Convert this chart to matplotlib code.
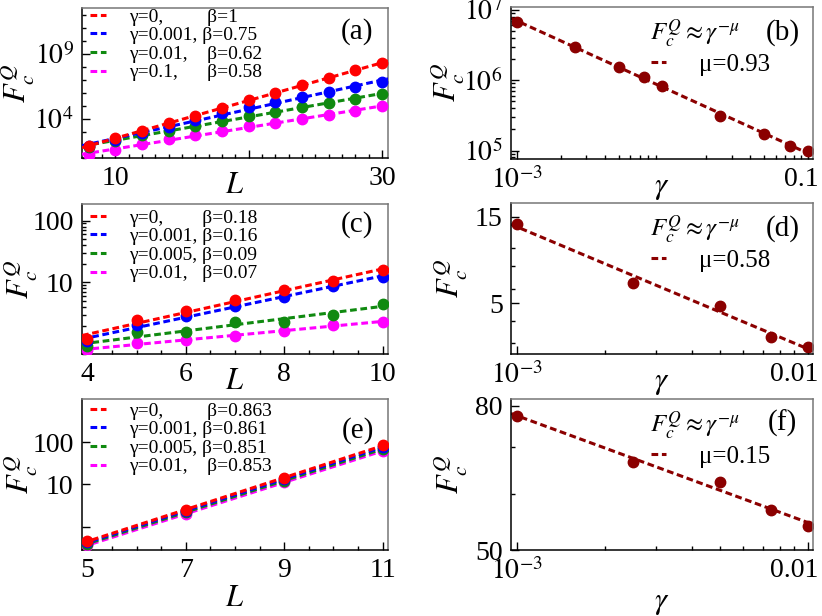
import numpy as np
import matplotlib
matplotlib.use('Agg')
import matplotlib.pyplot as plt
import matplotlib.transforms as mtransforms
from matplotlib.ticker import NullFormatter, FixedLocator, MultipleLocator

plt.rcParams['font.family'] = ['Liberation Serif', 'DejaVu Serif']
plt.rcParams['mathtext.fontset'] = 'stix'

##########################  DATA  #############################################

L_a = [8, 10, 12, 14, 16, 18, 20, 22, 24, 26, 28, 30]
Fa_g0 = [85, 372, 1230, 4900, 1.58e4, 6.3e4, 2.63e5, 9.33e5, 3.9e6, 1.41e7, 5.6e7, 2.0e8]
Fa_g001 = [89, 245, 813, 2240, 8900, 2.88e4, 8.5e4, 1.95e5, 4.79e5, 1.17e6, 2.57e6, 6.3e6]
Fa_g01 = [74, 219, 603, 1230, 2690, 7400, 1.58e4, 3.47e4, 8.5e4, 1.55e5, 3.55e5, 7.76e5]
Fa_g1 = [17, 41, 115, 282, 603, 1230, 2690, 4900, 1.0e4, 1.82e4, 3.89e4, 9.55e4]
labels_a = ['γ=0,         β=1', 'γ=0.001, β=0.75', 'γ=0.01,    β=0.62', 'γ=0.1,      β=0.58']

L_c = [4, 5, 6, 7, 8, 9, 10]
Fc_g0 = [1.23, 2.48, 3.48, 5.14, 7.59, 10.6, 15.8]
Fc_g001 = [1.13, 2.07, 2.87, 4.13, 5.79, 8.87, 12.3]
Fc_g005 = [0.94, 1.56, 1.60, 2.29, 2.29, 2.98, 4.56]
Fc_g01 = [0.81, 1.06, 1.20, 1.35, 1.62, 2.07, 2.33]
labels_c = ['γ=0,        β=0.18', 'γ=0.001, β=0.16', 'γ=0.005, β=0.09', 'γ=0.01,   β=0.07']

L_e = [5, 7, 9, 11]
Fe_g0 = [0.457, 2.48, 14.4, 83]
Fe_g001 = [0.427, 2.34, 13.5, 75.9]
Fe_g005 = [0.398, 2.19, 12.3, 69]
Fe_g01 = [0.363, 2.0, 11.2, 61.7]
labels_e = ['γ=0,         β=0.863', 'γ=0.001, β=0.861', 'γ=0.005, β=0.851', 'γ=0.01,    β=0.853']

gamma_b = [0.001, 0.0025, 0.005, 0.0075, 0.01, 0.025, 0.05, 0.075, 0.1]
Fb = [6.76e6, 2.95e6, 1.55e6, 1.12e6, 8.3e5, 3.1e5, 1.7e5, 1.17e5, 9.8e4]
mu_b = 'μ=0.93'

gamma_d = [0.001, 0.0025, 0.005, 0.0075, 0.01]
Fd = [13.7, 6.44, 4.83, 3.25, 2.86]
mu_d = 'μ=0.58'

gamma_f = [0.001, 0.0025, 0.005, 0.0075, 0.01]
Ff = [77.4, 66.7, 62.4, 56.9, 54.1]
mu_f = 'μ=0.15'

colors = ['#ff0000', '#0000ff', '#108a10', '#ff00ff']
darkRed = '#8b0000'
DASH = (0, (2.2, 1.2))

##############################  HELPERS  ######################################

def styleAxes(ax):
    for side in ['top', 'right']:
        ax.spines[side].set_color('#777777')
    for side in ax.spines:
        ax.spines[side].set_linewidth(1.1)
    ax.tick_params(which='both', direction='in', top=False, right=False, labelsize=20, pad=6)
    ax.tick_params(which='major', length=6, width=1)
    ax.tick_params(which='minor', length=3, width=1)

def expFit(x, y, xlim):
    p = np.polyfit(x, np.log10(y), 1)
    xs = np.array(xlim)
    return xs, 10 ** (p[0] * xs + p[1])

def powFit(x, y, xlim):
    p = np.polyfit(np.log10(x), np.log10(y), 1)
    xs = np.array(xlim)
    return xs, 10 ** (p[0] * np.log10(xs) + p[1])

def setLabels(ax, xlabel, xly, ylx):
    ax.set_xlabel(xlabel, fontsize=22)
    ax.xaxis.label.set_va('center')
    ax.xaxis.set_label_coords(0.5, xly)
    ax.set_ylabel(r'$F_c^Q$', fontsize=22)
    ax.yaxis.label.set_va('center')
    ax.yaxis.set_label_coords(ylx, 0.5)

def plotLeft(ax, L, series, labels, xlim, ylim, legY):
    for k in range(len(series)):
        xs, ys = expFit(L, series[k], xlim)
        ax.plot(xs, ys, linestyle=DASH, color=colors[k], lw=2.2, label=labels[k], zorder=10 - k)
        ax.plot(L, series[k], 'o', color=colors[k], ms=7.5, zorder=10 - k)
    ax.set_yscale('log')
    ax.set_xlim(xlim)
    ax.set_ylim(ylim)
    ax.legend(loc='upper left', bbox_to_anchor=(0.026, legY), frameon=False, fontsize=14,
              handlelength=0.8, handletextpad=1.2, labelspacing=0.05, borderpad=0, borderaxespad=0)
    styleAxes(ax)

def plotRight(ax, g, F, mu, xlim, ylim, xticks, xticklabels):
    xs, ys = powFit(g, F, xlim)
    ax.plot(xs, ys, linestyle=DASH, color=darkRed, lw=2.2, label=mu)
    ax.plot(g, F, 'o', color=darkRed, ms=7.5)
    ax.set_xscale('log')
    ax.set_yscale('log')
    ax.set_xlim(xlim)
    ax.set_ylim(ylim)
    ax.set_xticks(xticks)
    ax.set_xticklabels(xticklabels)
    ax.xaxis.set_minor_formatter(NullFormatter())
    ax.yaxis.set_minor_formatter(NullFormatter())
    ax.text(0.61, 0.82, r'$F_c^Q \approx \gamma^{-\mu}$', transform=ax.transAxes,
            ha='center', va='center', fontsize=18)
    ax.legend(loc='center left', bbox_to_anchor=(0.464, 0.62), frameon=False, fontsize=18,
              handlelength=0.6, handletextpad=1.3, borderpad=0, borderaxespad=0)
    styleAxes(ax)
    # last x label pulled inside the figure, as in the original
    lab = ax.xaxis.get_major_ticks()[-1].label1
    lab.set_horizontalalignment('right')
    lab.set_transform(lab.get_transform() + mtransforms.ScaledTranslation(0.11, 0, fig.dpi_scale_trans))

def panelLabel(ax, text, y):
    ax.text(0.90, y, text, transform=ax.transAxes, ha='center', va='center', fontsize=21)

###############################  FIGURE  ######################################

fig = plt.figure(figsize=(8.22, 6.16), dpi=100)
axA = fig.add_axes([0.0998, 0.7435, 0.3723, 0.2435])
axB = fig.add_axes([0.6217, 0.7419, 0.3674, 0.2468])
axC = fig.add_axes([0.0998, 0.4253, 0.3723, 0.2435])
axD = fig.add_axes([0.6217, 0.4253, 0.3674, 0.2451])
axE = fig.add_axes([0.0998, 0.1071, 0.3723, 0.2451])
axF = fig.add_axes([0.6217, 0.1071, 0.3674, 0.2451])

# (a)
plotLeft(axA, L_a, [Fa_g0, Fa_g001, Fa_g01, Fa_g1], labels_a, (7.5, 30.45), (10, 10 ** 12.5), 1.0)
axA.set_xticks([10, 20, 30])
axA.set_xticklabels(['10', '', '30'])
axA.xaxis.set_minor_locator(MultipleLocator(1))
axA.yaxis.set_major_locator(FixedLocator([1e4, 1e9]))
axA.yaxis.set_minor_locator(FixedLocator([10.0 ** k for k in range(1, 13)]))
axA.yaxis.set_minor_formatter(NullFormatter())
axA.set_yticklabels([r'$10^4$', r'$10^9$'])
setLabels(axA, r'$L$', -0.18, -0.21)
panelLabel(axA, '(a)', 0.84)

# (c)
plotLeft(axC, L_c, [Fc_g0, Fc_g001, Fc_g005, Fc_g01], labels_c, (3.89, 10.11), (0.70, 185), 0.967)
axC.set_xticks([4, 6, 8, 10])
axC.xaxis.set_minor_locator(MultipleLocator(0.5))
axC.set_yticks([10, 100])
axC.set_yticklabels(['10', '100'])
axC.yaxis.set_minor_formatter(NullFormatter())
setLabels(axC, r'$L$', -0.18, -0.20)
panelLabel(axC, '(c)', 0.86)

# (e)
plotLeft(axE, L_e, [Fe_g0, Fe_g001, Fe_g005, Fe_g01], labels_e, (4.89, 11.11), (0.28, 1040), 0.98)
axE.set_xticks([5, 7, 9, 11])
axE.xaxis.set_minor_locator(MultipleLocator(0.5))
axE.yaxis.set_major_locator(FixedLocator([1, 10, 100]))
axE.yaxis.set_minor_locator(FixedLocator([]))
axE.set_yticklabels(['', '10', '100'])
setLabels(axE, r'$L$', -0.32, -0.20)
panelLabel(axE, '(e)', 0.79)

# (b)
plotRight(axB, gamma_b, Fb, mu_b, (9.1e-4, 0.1086), (7.6e4, 1.1e7), [1e-3, 0.1], [r'$10^{-3}$', '0.1'])
axB.set_yticks([1e5, 1e6, 1e7])
axB.set_yticklabels([r'$10^5$', r'$10^6$', r'$10^7$'])
setLabels(axB, r'$\gamma$', -0.19, -0.21)
panelLabel(axB, '(b)', 0.83)

# (d)
plotRight(axD, gamma_d, Fd, mu_d, (9.54e-4, 0.01043), (2.62, 17.8), [1e-3, 1e-2], [r'$10^{-3}$', '0.01'])
axD.yaxis.set_major_locator(FixedLocator([5, 15]))
axD.yaxis.set_minor_locator(FixedLocator([3, 4, 6, 8, 10]))
axD.set_yticklabels(['5', '15'])
setLabels(axD, r'$\gamma$', -0.19, -0.20)
panelLabel(axD, '(d)', 0.83)

# (f)
plotRight(axF, gamma_f, Ff, mu_f, (9.54e-4, 0.01043), (50, 81.8), [1e-3, 1e-2], [r'$10^{-3}$', '0.01'])
axF.yaxis.set_major_locator(FixedLocator([50, 80]))
axF.yaxis.set_minor_locator(FixedLocator([60, 70]))
axF.set_yticklabels(['50', '80'])
setLabels(axF, r'$\gamma$', -0.35, -0.20)
panelLabel(axF, '(f)', 0.84)

fig.savefig('out.png', dpi=100)
